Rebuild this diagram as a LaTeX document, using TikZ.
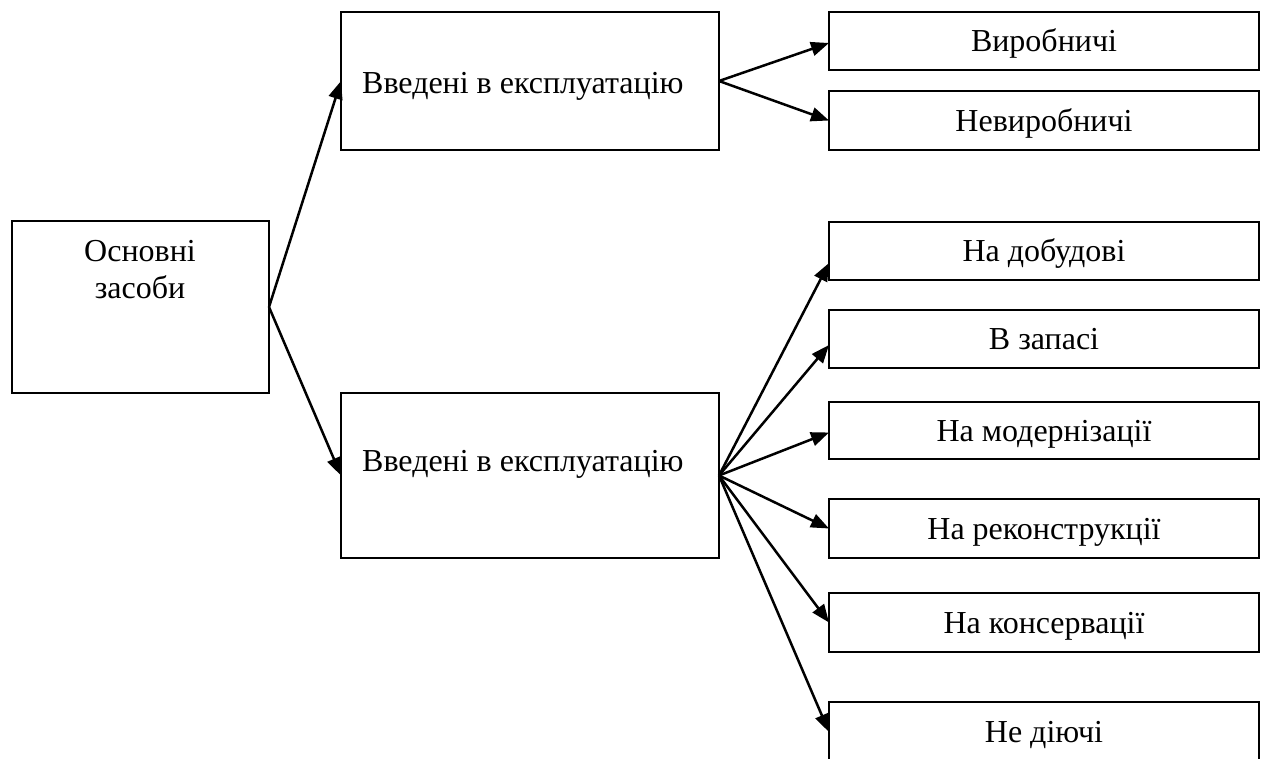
\documentclass[tikz,border=0pt]{standalone}
\usepackage{fontspec}
\setmainfont{Liberation Serif}
\usetikzlibrary{arrows.meta}
\begin{document}
\begin{tikzpicture}[x=1pt,y=-1pt,
  box/.style={draw,line width=2.3pt,inner sep=0pt,outer sep=0pt,anchor=north west,
    font=\fontsize{32}{38}\selectfont,text height=21pt,text depth=0pt},
  txt/.style={font=\fontsize{32}{38}\selectfont,inner sep=0pt},
  arr/.style={line width=2.5pt,-{Triangle[length=18pt,width=14pt]}}]
\useasboundingbox (0,0) rectangle (1264,758);
% left and middle boxes
\node[box,minimum width=257pt,minimum height=172pt] (osn) at (12,221) {};
\node[box,minimum width=378pt,minimum height=138pt] (top) at (341,12) {};
\node[box,minimum width=378pt,minimum height=165pt] (bot) at (341,393) {};
\node[txt,anchor=base] (osn1) at (140,261) {Основні};
\node[txt,anchor=base] (osn2) at (140,298) {засоби};
\node[txt,anchor=base west] (toptxt) at (362,93) {Введені в експлуатацію};
\node[txt,anchor=base west] (bottxt) at (362,471) {Введені в експлуатацію};
% right boxes
\node[box,minimum width=430pt,minimum height=58pt] (vyr) at (829,12) {Виробничі};
\node[box,minimum width=430pt,minimum height=59pt] (nevyr) at (829,91) {Невиробничі};
\node[box,minimum width=430pt,minimum height=58pt] (dob) at (829,222) {На добудові};
\node[box,minimum width=430pt,minimum height=58pt] (zap) at (829,310) {В запасі};
\node[box,minimum width=430pt,minimum height=57pt] (mod) at (829,402) {На модернізації};
\node[box,minimum width=430pt,minimum height=59pt] (rek) at (829,499) {На реконструкції};
\node[box,minimum width=430pt,minimum height=59pt] (kon) at (829,593) {На консервації};
\node[box,minimum width=430pt,minimum height=60pt] (ned) at (829,702) {Не діючі};
% connectors
\draw[arr] (osn.east) -- (top.west);
\draw[arr] (osn.east) -- (bot.west);
\draw[arr] (top.east) -- ([yshift=-2pt]vyr.west);
\draw[arr] (top.east) -- (nevyr.west);
\draw[arr] (bot.east) -- ([yshift=-12pt]dob.west);
\draw[arr] (bot.east) -- ([yshift=-6pt]zap.west);
\draw[arr] (bot.east) -- ([yshift=-2pt]mod.west);
\draw[arr] (bot.east) -- (rek.west);
\draw[arr] (bot.east) -- (kon.west);
\draw[arr] (bot.east) -- (ned.west);
\end{tikzpicture}
\end{document}
